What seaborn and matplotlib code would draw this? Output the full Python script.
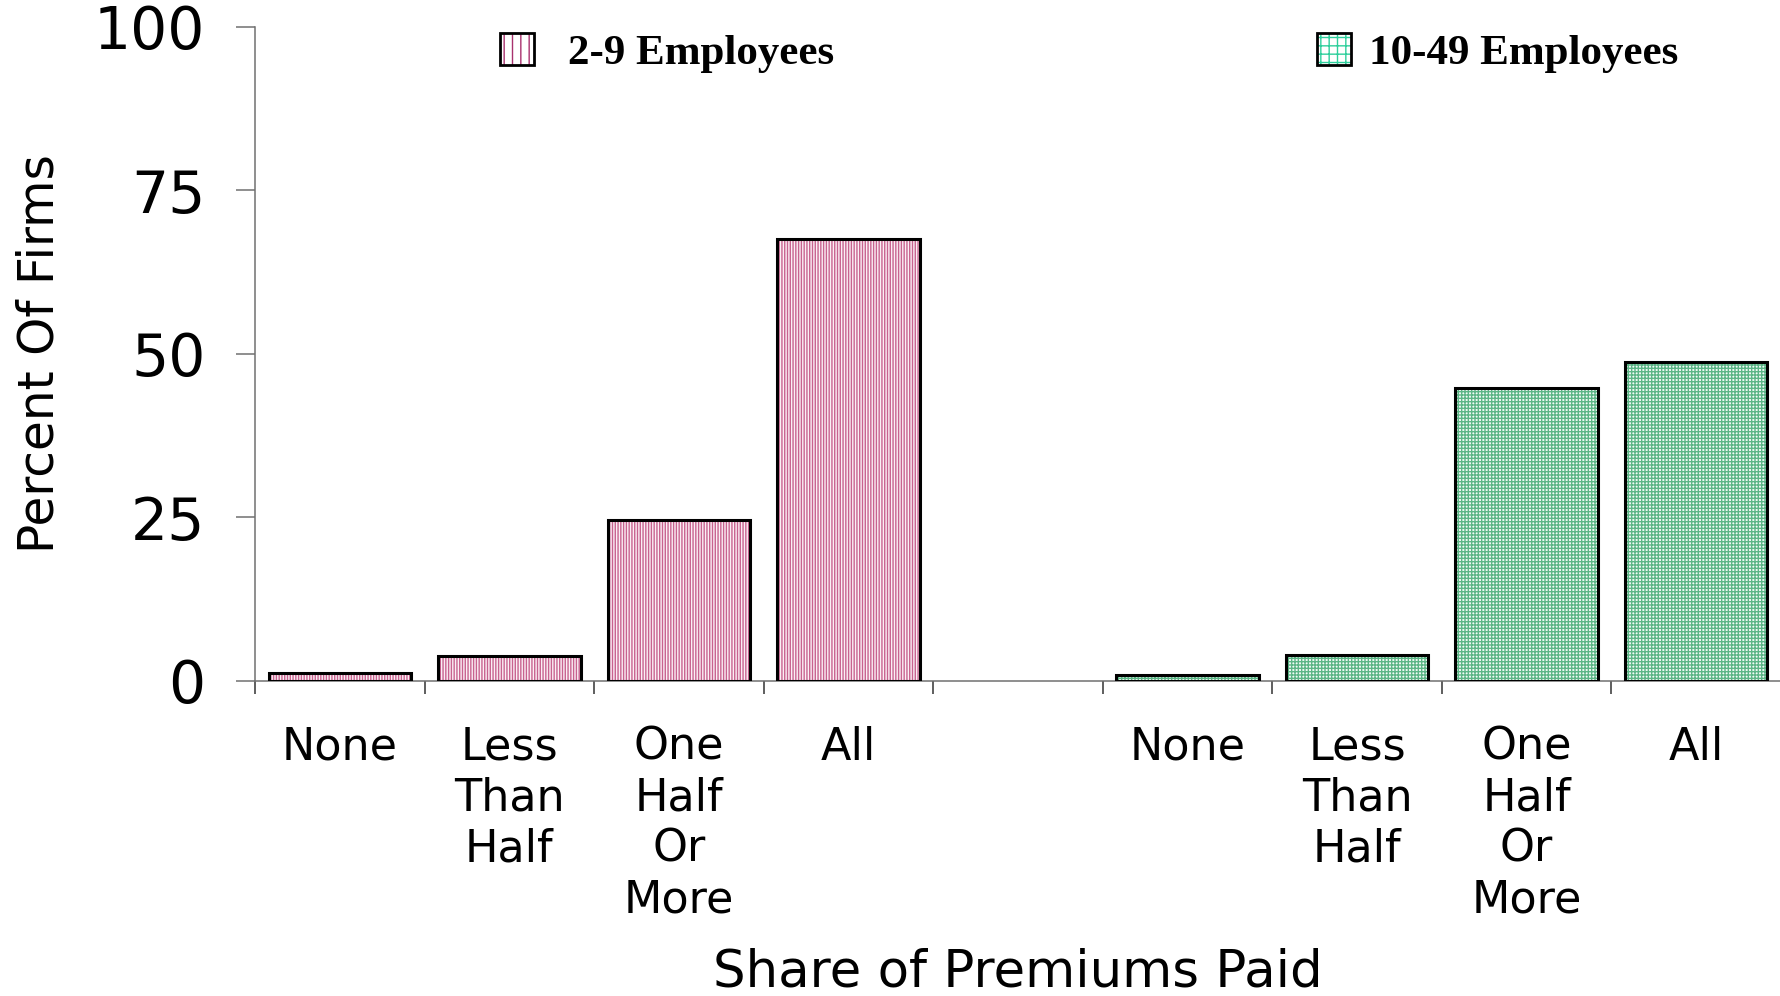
import matplotlib
matplotlib.use("Agg")
import matplotlib.pyplot as plt
from matplotlib.patches import Patch, Rectangle
import numpy as np
import pandas as pd
import seaborn as sns

# data (percent of firms)
shares = ["None", "Less\nThan\nHalf", "One\nHalf\nOr\nMore", "All"]
small_firms = [1.2, 3.7, 24.5, 67.5]   # 2-9 employees
mid_firms = [0.9, 4.0, 44.7, 48.8]     # 10-49 employees
groups = ["2-9 Employees", "10-49 Employees"]
y_ticks = [0, 25, 50, 75, 100]

# one empty slot between the two groups
slots = ["a%d" % i for i in range(4)] + ["gap"] + ["b%d" % i for i in range(4)]
slot_labels = shares + [""] + shares

df = pd.DataFrame({
    "slot": slots[:4] + slots[5:],
    "pct": small_firms + mid_firms,
    "group": [groups[0]] * 4 + [groups[1]] * 4,
})

sns.set_theme(style="white")
plt.rcParams["font.family"] = "DejaVu Sans"
plt.rcParams["hatch.linewidth"] = 1.0
plt.rcParams["text.color"] = "black"
plt.rcParams["axes.labelcolor"] = "black"
plt.rcParams["xtick.color"] = "black"
plt.rcParams["ytick.color"] = "black"

pink_line, pink_face = "#c8628f", "#fbeff5"
green_line, green_face = "#5cb586", "#f2fbf6"

fig = plt.figure(figsize=(17.81, 9.96), dpi=100)
ax = fig.add_axes([0.14318, 0.31657, 0.85682, 0.65663])

sns.barplot(data=df, x="slot", y="pct", hue="group", order=slots,
            hue_order=groups, dodge=False, width=0.84, errorbar=None,
            palette=[pink_face, green_face], legend=False, ax=ax)

# hatch the bars, then draw a black outline on top of each
for p in list(ax.patches):
    if p.get_height() <= 0:
        continue
    cx = p.get_x() + p.get_width() / 2
    if cx < 4:
        p.set_facecolor(pink_face)
        p.set_edgecolor(pink_line)
        p.set_hatch("||||||")
    else:
        p.set_facecolor(green_face)
        p.set_edgecolor(green_line)
        p.set_hatch("+++++")
    p.set_linewidth(0)
    ax.add_patch(Rectangle((p.get_x(), p.get_y()), p.get_width(), p.get_height(),
                           fill=False, edgecolor="black", linewidth=2.2, zorder=3))

ax.set_xlim(-0.5, len(slots) - 0.5)
ax.set_ylim(0, 100)

# ticks at slot boundaries, labels at slot centres
ax.set_xticks(np.arange(-0.5, len(slots), 1.0))
ax.set_xticklabels([])
ax.set_xticks(np.arange(len(slots)), minor=True)
ax.set_xticklabels(slot_labels, minor=True, fontsize=32, linespacing=1.235)
ax.tick_params(axis="x", which="major", direction="out", length=9.5,
               width=1.1, color="#333333", bottom=True)
ax.tick_params(axis="x", which="minor", length=0, pad=32.5, bottom=True)

ax.set_yticks(y_ticks)
ax.set_yticklabels([str(v) for v in y_ticks], fontsize=42)
ax.tick_params(axis="y", direction="out", length=13.7, width=1.1,
               color="#707070", pad=22, left=True)

for side in ["top", "right"]:
    ax.spines[side].set_visible(False)
for side in ["left", "bottom"]:
    ax.spines[side].set_color("#707070")
    ax.spines[side].set_linewidth(1.1)

ax.set_xlabel("Share of Premiums Paid", fontsize=37, va="baseline")
ax.xaxis.set_label_coords(0.5, -0.468)
ax.set_ylabel("Percent Of Firms", fontsize=35, va="center")
ax.yaxis.set_label_coords(-0.141, 0.5)

# legend: two separate entries at the top
legend_font = {"family": "Liberation Serif", "weight": "bold", "size": 31}
swatches = [
    ("||", "#a8326e", "white", 0.281, 0.8),
    ("++", "#2ecf9c", "white", 0.7395, 0.42),
]
for (hatch, line, face, xpos, tpad), label in zip(swatches, groups):
    h_fill = Patch(facecolor=face, edgecolor=line, hatch=hatch, linewidth=0)
    h_edge = Patch(facecolor="none", edgecolor="black", linewidth=2.0)
    fig.legend(handles=[(h_fill, h_edge)], labels=[label], loc="center left",
               bbox_to_anchor=(xpos, 0.947), frameon=False, prop=legend_font,
               handlelength=0.78, handleheight=0.78, handletextpad=tpad,
               borderpad=0, borderaxespad=0)

fig.savefig("out.png", dpi=100)
